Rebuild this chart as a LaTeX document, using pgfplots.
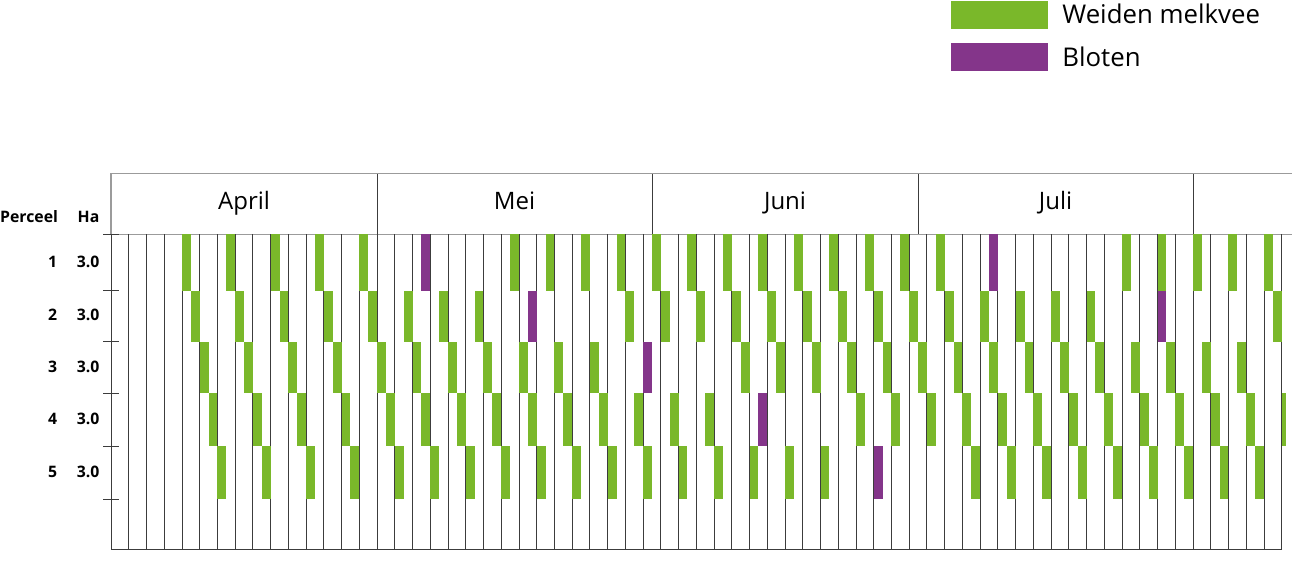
\documentclass[border=0pt]{standalone}
\usepackage{pgfplots}
\pgfplotsset{compat=1.18}
\usepackage{fontspec}
\setmainfont{Open Sans}
\definecolor{cgreen}{RGB}{122,184,42}
\definecolor{cpurple}{RGB}{132,53,138}
\definecolor{gline}{RGB}{60,60,60}
\definecolor{lline}{RGB}{155,155,155}
\pgfplotsset{
  cell/.style 2 args={draw=none, mark=none, forget plot,
    error bars/.cd, y dir=both, y fixed=#2, error mark=none,
    error bar style={line width=8.87pt, draw=#1, line cap=butt}},
}
\begin{document}
\begin{tikzpicture}
\path[use as bounding box] (0pt,0pt) rectangle (1292pt,-564pt);
% header with months
\begin{axis}[at={(111pt,-234.3pt)}, anchor=south west, scale only axis,
  width=1186pt, height=61pt, xmin=0, xmax=133.72, ymin=0, ymax=1,
  axis line style={lline, line width=1.2pt},
  xtick={30,61,91,122}, xticklabels={}, ytick=\empty,
  xmajorgrids, major grid style={gline, line width=1pt},
  major tick length=0pt, clip=false]
  \node[anchor=base, font=\fontsize{24}{28}\selectfont] at (axis cs:15,0.4) {April};
  \node[anchor=base, font=\fontsize{24}{28}\selectfont] at (axis cs:45.5,0.4) {Mei};
  \node[anchor=base, font=\fontsize{24}{28}\selectfont] at (axis cs:76,0.4) {Juni};
  \node[anchor=base, font=\fontsize{24}{28}\selectfont] at (axis cs:106.5,0.4) {Juli};
\end{axis}
% main grazing grid
\begin{axis}[at={(111pt,-549pt)}, anchor=south west, scale only axis,
  width=1170.7pt, height=314.7pt, xmin=0, xmax=132, ymin=-549, ymax=-234.3,
  axis x line*=bottom, axis y line*=left,
  axis line style={gline, line width=1pt, -},
  xtick={0,2,...,132}, xticklabels={}, xmajorgrids,
  major grid style={gline, line width=0.9pt},
  xtick style={draw=none},
  ytick={-234.3,-290.5,-341.5,-393.3,-446.3,-499.3}, yticklabels={},
  ytick style={gline, line width=1pt},
  major tick length=16pt, tick align=center,
  clip=false,
  legend style={at={(axis description cs:0.7175,1.7413)}, anchor=north west,
    draw=none, fill=none, inner sep=0pt, outer sep=0pt,
    row sep=15pt, column sep=15pt,
    nodes={inner sep=0pt},
    font=\fontsize{25.8}{30}\selectfont},
  legend cell align=left,
  ]
  \addlegendimage{legend image code/.code={\fill[cgreen] (0pt,-13.5pt) rectangle (96pt,13.5pt);}}
  \addlegendentry{Weiden melkvee}
  \addlegendimage{legend image code/.code={\fill[cpurple] (0pt,-13.5pt) rectangle (96pt,13.5pt);}}
  \addlegendentry{Bloten}
  % Perceel 1
  \addplot[cell={cgreen}{28.1}] table[x expr=\thisrow{d}+0.5, y expr=-262.4, row sep=\\] {
    d\\8\\13\\18\\23\\28\\45\\49\\53\\57\\61\\65\\69\\73\\77\\81\\85\\89\\93\\114\\118\\122\\126\\130\\};
  \addplot[cell={cpurple}{28.1}] table[x expr=\thisrow{d}+0.5, y expr=-262.4, row sep=\\] {
    d\\35\\99\\};
  % Perceel 2
  \addplot[cell={cgreen}{25.5}] table[x expr=\thisrow{d}+0.5, y expr=-316, row sep=\\] {
    d\\9\\14\\19\\24\\29\\33\\37\\41\\58\\62\\66\\70\\74\\78\\82\\86\\90\\94\\98\\102\\106\\110\\131\\};
  \addplot[cell={cpurple}{25.5}] table[x expr=\thisrow{d}+0.5, y expr=-316, row sep=\\] {
    d\\47\\118\\};
  % Perceel 3
  \addplot[cell={cgreen}{25.9}] table[x expr=\thisrow{d}+0.5, y expr=-367.4, row sep=\\] {
    d\\10\\15\\20\\25\\30\\34\\38\\42\\46\\50\\54\\71\\75\\79\\83\\87\\91\\95\\99\\103\\107\\111\\115\\119\\123\\127\\};
  \addplot[cell={cpurple}{25.9}] table[x expr=\thisrow{d}+0.5, y expr=-367.4, row sep=\\] {
    d\\60\\};
  % Perceel 4
  \addplot[cell={cgreen}{26.5}] table[x expr=\thisrow{d}+0.5, y expr=-419.8, row sep=\\] {
    d\\11\\16\\21\\26\\31\\35\\39\\43\\47\\51\\55\\59\\63\\67\\84\\88\\92\\96\\100\\104\\108\\112\\116\\120\\124\\128\\};
  \addplot[cell={cpurple}{26.5}] table[x expr=\thisrow{d}+0.5, y expr=-419.8, row sep=\\] {
    d\\73\\};
  % partly visible bar at the right edge (day 132)
  \addplot[draw=none, mark=none, forget plot, error bars/.cd, y dir=both, y fixed=26.5, error mark=none,
    error bar style={line width=4.7pt, draw=cgreen, line cap=butt}]
    table[x expr=\thisrow{d}+0.265, y expr=-419.8, row sep=\\] {d\\132\\};
  % Perceel 5
  \addplot[cell={cgreen}{26.5}] table[x expr=\thisrow{d}+0.5, y expr=-472.8, row sep=\\] {
    d\\12\\17\\22\\27\\32\\36\\40\\44\\48\\52\\56\\60\\64\\68\\72\\76\\80\\97\\101\\105\\109\\113\\117\\121\\125\\129\\};
  \addplot[cell={cpurple}{26.5}] table[x expr=\thisrow{d}+0.5, y expr=-472.8, row sep=\\] {
    d\\86\\};
\end{axis}
% row labels
\begin{scope}[font=\bfseries\fontsize{15.8}{18}\selectfont]
  \node[anchor=base west, inner sep=0pt] at (0pt,-222.3pt) {Perceel};
  \node[anchor=base east, inner sep=0pt] at (99.5pt,-222.3pt) {Ha};
  \foreach \n/\b in {1/267.2, 2/320.8, 3/372.2, 4/424.6, 5/477.6} {
    \node[anchor=base east, inner sep=0pt] at (57.3pt,-\b pt) {\n};
    \node[anchor=base east, inner sep=0pt] at (99.5pt,-\b pt) {3.0};
  }
\end{scope}
\end{tikzpicture}
\end{document}
